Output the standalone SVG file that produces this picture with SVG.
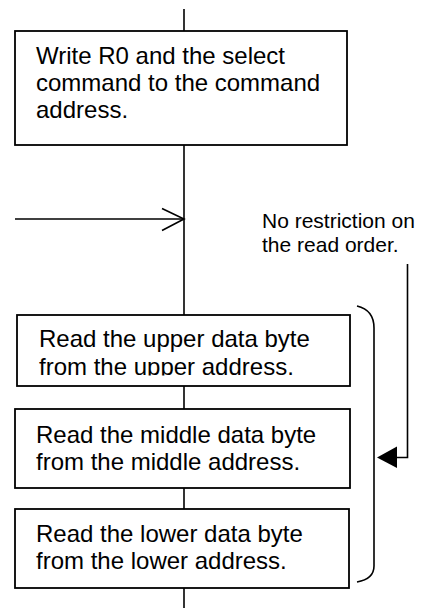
<svg xmlns="http://www.w3.org/2000/svg" width="422" height="608" viewBox="0 0 422 608">
<style>
.box{fill:#fff;stroke:#000;stroke-width:1.8}
.ln{fill:none;stroke:#000;stroke-width:1.6}
.t{font-family:"Liberation Sans",Arial,sans-serif;font-size:24px;fill:#000}
.a{font-family:"Liberation Sans",Arial,sans-serif;font-size:21px;fill:#000}
</style>
<defs>
<clipPath id="clipUpper"><rect x="17" y="315" width="333" height="60.5"/></clipPath>
</defs>
<rect width="422" height="608" fill="#fff"/>
<g id="connectors">
<line class="ln" x1="184" y1="9" x2="184" y2="31"/>
<line class="ln" x1="184" y1="145" x2="184" y2="315"/>
<line class="ln" x1="184" y1="386" x2="184" y2="409"/>
<line class="ln" x1="184" y1="488" x2="184" y2="509"/>
<line class="ln" x1="184" y1="588" x2="184" y2="608"/>
<line class="ln" x1="15" y1="219" x2="184" y2="219"/>
<polyline class="ln" points="162,208.5 184,219 162,230.5"/>
<path class="ln" d="M357,306 Q374,310 374,328 L374,566 Q374,579 357,582"/>
<polyline class="ln" points="407.5,264 407.5,457.5 396,457.5"/>
<polygon points="377,457.5 397,446.5 397,468" fill="#000"/>
</g>
<g id="n1">
<rect class="box" x="15" y="31" width="332" height="114"/>
<text class="t" x="36" y="64">Write R0 and the select</text>
<text class="t" x="36" y="91">command to the command</text>
<text class="t" x="36" y="118">address.</text>
</g>
<g id="note">
<text class="a" x="262" y="228">No restriction on</text>
<text class="a" x="262" y="252">the read order.</text>
</g>
<g id="n2">
<rect class="box" x="17" y="315" width="333" height="71"/>
<g clip-path="url(#clipUpper)">
<text class="t" x="39" y="347">Read the upper data byte</text>
<text class="t" x="39" y="374.5">from the upper address.</text>
</g>
</g>
<g id="n3">
<rect class="box" x="15" y="409" width="335" height="79"/>
<text class="t" x="36" y="443">Read the middle data byte</text>
<text class="t" x="36" y="469.5">from the middle address.</text>
</g>
<g id="n4">
<rect class="box" x="15" y="509" width="334" height="79"/>
<text class="t" x="36" y="542">Read the lower data byte</text>
<text class="t" x="36" y="568.5">from the lower address.</text>
</g>
</svg>
